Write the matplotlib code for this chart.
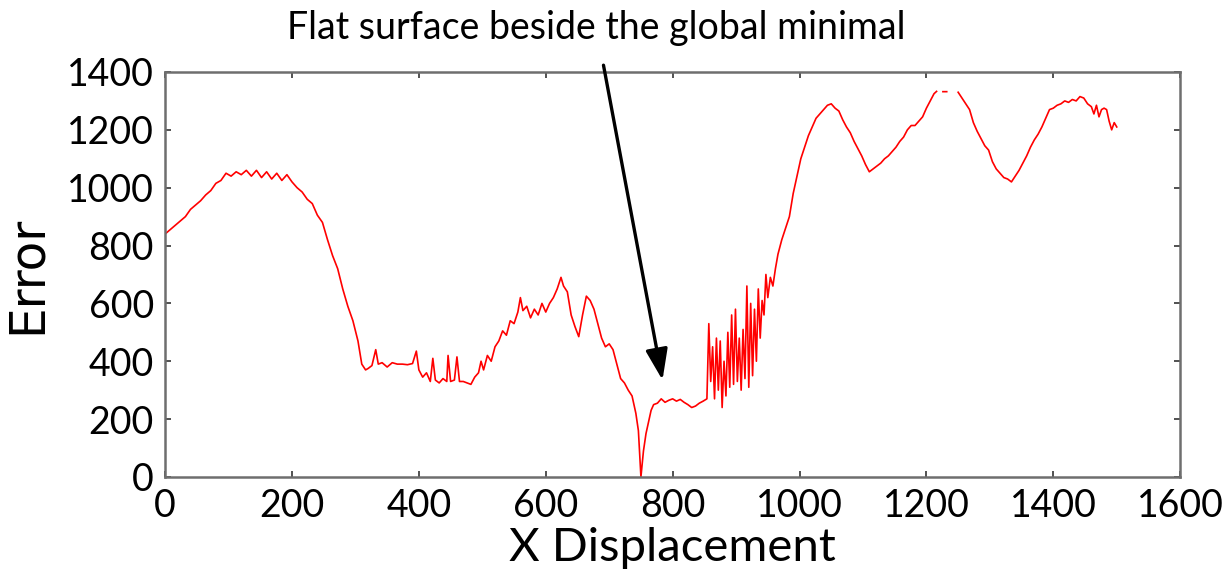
import numpy as np
import matplotlib
matplotlib.use("Agg")
import matplotlib.pyplot as plt

plt.rcParams['font.family'] = ['Lato', 'DejaVu Sans']

# x displacement / error
disp = [0, 8, 16, 24, 32, 40, 48, 56, 64, 72, 80, 88, 96, 104, 112, 120, 128, 136, 144, 152,
        160, 168, 176, 184, 192, 200, 208, 216, 224, 232, 240, 248, 256, 264, 272, 280, 288, 296, 304, 310,
        316, 320, 326, 332, 336, 342, 350, 358, 366, 374, 382, 390, 396, 400, 406, 412, 418, 422, 426, 432,
        438, 444, 446, 450, 456, 460, 464, 470, 476, 482, 488, 494, 498, 502, 508, 514, 520, 526, 532, 538,
        544, 550, 556, 560, 564, 570, 576, 582, 588, 594, 600, 606, 612, 618, 624, 628, 634, 640, 646, 652,
        658, 664, 670, 676, 682, 688, 694, 700, 706, 712, 718, 724, 730, 736, 742, 746, 750, 754, 758, 762,
        766, 770, 776, 782, 788, 794, 800, 806, 812, 818, 824, 830, 836, 842, 848, 854,
        857, 860, 863, 866, 869, 872, 875, 878, 881, 884, 887, 890, 893, 896, 899, 902, 905, 908, 911, 914,
        917, 920, 923, 926, 929, 932, 935, 938, 941, 944, 947, 950, 954, 958, 962, 966,
        972, 978, 984, 990, 996, 1002, 1008, 1014, 1020, 1026, 1032, 1038, 1044, 1050, 1056, 1062, 1068, 1074,
        1080, 1086, 1092, 1098, 1104, 1110, 1116, 1122, 1128, 1134, 1140, 1146, 1152, 1158, 1164, 1170, 1176,
        1182, 1188, 1194, 1200, 1206, 1212, 1216, 1220, 1226, 1232, 1236, 1248, 1250, 1256, 1262, 1268, 1274,
        1280, 1286, 1292, 1298, 1304, 1310, 1316, 1322, 1328, 1334, 1340, 1346, 1352, 1358, 1364, 1370, 1376,
        1382, 1388, 1394, 1400, 1406, 1412, 1418, 1424, 1430, 1436, 1442, 1448, 1454, 1460, 1464, 1468, 1472,
        1476, 1480, 1484, 1488, 1492, 1496, 1500]
error = [840, 855, 870, 885, 900, 925, 940, 955, 975, 990, 1015, 1025, 1050, 1040, 1055, 1045, 1060, 1040, 1060, 1035,
         1055, 1030, 1050, 1025, 1045, 1020, 1000, 985, 960, 945, 905, 880, 820, 765, 720, 650, 590, 540, 470, 390,
         370, 375, 385, 440, 390, 395, 380, 395, 390, 390, 388, 392, 435, 370, 345, 360, 330, 410, 335, 325,
         340, 330, 420, 330, 335, 415, 330, 330, 325, 320, 345, 360, 400, 370, 420, 400, 450, 470, 505, 490,
         540, 530, 570, 620, 575, 590, 550, 580, 560, 600, 570, 600, 620, 650, 690, 660, 640, 560, 520, 485,
         560, 625, 610, 580, 530, 480, 450, 460, 440, 390, 340, 325, 300, 280, 220, 160, 0, 90, 150, 190,
         230, 250, 255, 270, 258, 265, 270, 262, 268, 258, 250, 240, 245, 255, 262, 270,
         530, 330, 450, 270, 480, 300, 470, 240, 400, 280, 500, 310, 560, 320, 580, 330, 480, 300, 510, 340,
         660, 310, 600, 350, 580, 400, 650, 480, 610, 560, 700, 620, 690, 660, 720, 770,
         820, 860, 900, 980, 1040, 1100, 1140, 1180, 1210, 1240, 1255, 1270, 1285, 1290, 1275, 1265, 1235, 1210,
         1190, 1160, 1135, 1110, 1080, 1055, 1065, 1075, 1085, 1100, 1110, 1125, 1140, 1160, 1175, 1200, 1215,
         1215, 1230, 1245, 1275, 1300, 1325, 1333, np.nan, 1332, 1332, np.nan, np.nan, 1330, 1310, 1290, 1270, 1225,
         1195, 1170, 1145, 1130, 1090, 1065, 1050, 1035, 1030, 1020, 1040, 1060, 1085, 1110, 1140, 1165, 1185,
         1210, 1240, 1270, 1275, 1285, 1290, 1300, 1295, 1305, 1300, 1315, 1310, 1290, 1280, 1255, 1285, 1245,
         1270, 1275, 1270, 1230, 1200, 1225, 1210]

fig = plt.figure(figsize=(12.23, 5.76), dpi=100)
ax = fig.add_axes([0.135, 0.172, 0.83, 0.703])

ax.plot(disp, error, color='red', linewidth=1.2)

ax.set_xlim(0, 1600)
ax.set_ylim(0, 1400)
ax.set_xticks(np.arange(0, 1601, 200))
ax.set_yticks(np.arange(0, 1401, 200))
ax.tick_params(direction='in', length=4, width=1.2, labelsize=27, top=True, right=True,
               color='#333333', pad=8)
for s in ax.spines.values():
    s.set_color('#6e6e6e')
    s.set_linewidth(1.8)

ax.set_xlabel('X Displacement', fontsize=34, labelpad=2)
ax.set_ylabel('Error', fontsize=35, family=['DejaVu Sans'], labelpad=12)

ax.annotate('Flat surface beside the global minimal', xy=(784, 335), xytext=(680, 1552),
            ha='center', va='center', fontsize=27, annotation_clip=False,
            arrowprops=dict(arrowstyle='-|>,head_length=0.7,head_width=0.25', color='black',
                            lw=2.4, shrinkA=12, shrinkB=0))

fig.savefig('out.png', dpi=100)
